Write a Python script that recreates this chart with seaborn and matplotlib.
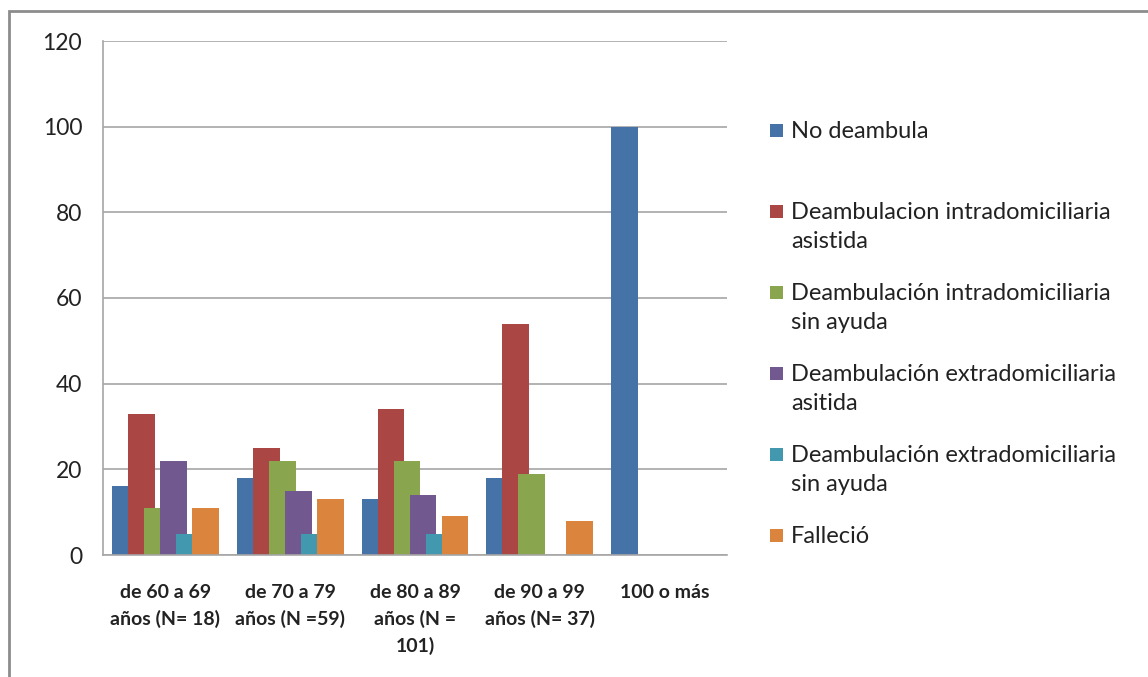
import numpy as np
import pandas as pd
import seaborn as sns
import matplotlib.pyplot as plt
from matplotlib.patches import Rectangle

# Age groups (x categories)
grupos = [
    "de 60 a 69\naños (N= 18)",
    "de 70 a 79\naños (N =59)",
    "de 80 a 89\naños (N =\n101)",
    "de 90 a 99\naños (N= 37)",
    "100 o más",
]

# Series names as shown in the legend
series = [
    "No deambula",
    "Deambulacion intradomiciliaria\nasistida",
    "Deambulación intradomiciliaria\nsin ayuda",
    "Deambulación extradomiciliaria\nasitida",
    "Deambulación extradomiciliaria\nsin ayuda",
    "Falleció",
]

# Percentages per age group
no_deambula = [16, 18, 13, 18, 100]
intra_asistida = [33, 25, 34, 54, 0]
intra_sin_ayuda = [11, 22, 22, 19, 0]
extra_asitida = [22, 15, 14, 0, 0]
extra_sin_ayuda = [5, 5, 5, 0, 0]
fallecio = [11, 13, 9, 8, 0]

valores = [no_deambula, intra_asistida, intra_sin_ayuda,
           extra_asitida, extra_sin_ayuda, fallecio]

colores = ["#4572A7", "#AA4643", "#89A54E", "#71588F", "#4198AF", "#DB843D"]

df = pd.DataFrame(
    [(g, s, v) for s, vals in zip(series, valores) for g, v in zip(grupos, vals)],
    columns=["grupo", "serie", "valor"],
)

sns.set_style("white")
plt.rcParams["font.family"] = ["Lato", "DejaVu Sans"]

fig = plt.figure(figsize=(11.48, 6.77), dpi=100)
ax = fig.add_axes([103 / 1148, 1 - 555 / 677, 624 / 1148, 514 / 677])

sns.barplot(data=df, x="grupo", y="valor", hue="serie", hue_order=series,
            order=grupos, palette=colores, width=0.77, saturation=1,
            legend=False, ax=ax, linewidth=0)

# Overlapping bars: widen each bar around its own center
ancho = 0.215
for p in ax.patches:
    c = p.get_x() + p.get_width() / 2
    p.set_x(c - ancho / 2)
    p.set_width(ancho)

ax.set_ylim(0, 120)
ax.set_xlim(-0.5, 4.5)
ax.set_yticks(np.arange(0, 121, 20))
ax.yaxis.grid(True, color="#A6A6A6", linewidth=1.2)
ax.set_axisbelow(True)
ax.set_xlabel("")
ax.set_ylabel("")
for s in ["top", "right"]:
    ax.spines[s].set_visible(False)
for s in ["left", "bottom"]:
    ax.spines[s].set_color("#A6A6A6")
    ax.spines[s].set_linewidth(1.2)
ax.tick_params(axis="both", length=0)
ax.tick_params(axis="y", labelsize=16.5, pad=15, labelcolor="#222222")
ax.tick_params(axis="x", pad=21)
for lbl in ax.get_xticklabels():
    lbl.set_fontsize(14)
    lbl.set_fontweight("bold")
    lbl.set_linespacing(1.58)
    lbl.set_color("#222222")
    lbl.set_verticalalignment("top")

# Legend drawn as squares with wrapped labels, first line aligned with the square
y0 = 1 - 130 / 677
paso = 81 / 677
for i, (nombre, col) in enumerate(zip(series, colores)):
    y = y0 - i * paso
    fig.patches.append(Rectangle((770 / 1148, y - 7 / 677), 13 / 1148, 13 / 677,
                                 transform=fig.transFigure, facecolor=col,
                                 edgecolor="none"))
    fig.text(791 / 1148, y + 9 / 677, nombre, fontsize=17, color="#222222",
             va="top", ha="left", linespacing=1.45)

# Outer chart frame
fig.patches.append(Rectangle((9 / 1148, -0.1), 1.2, 1 - 11 / 677 + 0.1,
                             transform=fig.transFigure, fill=False,
                             edgecolor="#8C8C8C", linewidth=2))

fig.savefig("out.png", dpi=100)
